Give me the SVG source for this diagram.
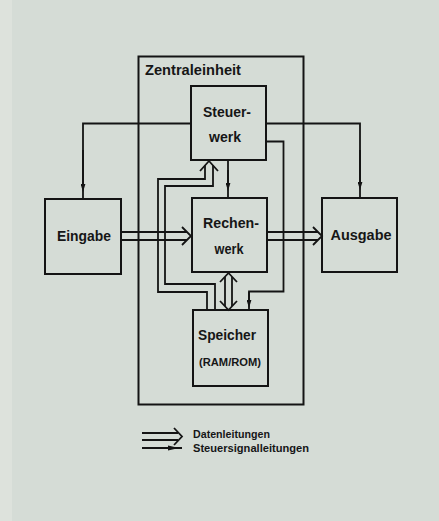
<svg xmlns="http://www.w3.org/2000/svg" width="439" height="521" viewBox="0 0 439 521">
  <defs>
    <style>
      .box { fill: none; stroke: #141414; stroke-width: 2; }
      .ln { fill: none; stroke: #141414; stroke-width: 1.8; stroke-linejoin: miter; }
      .lbl { font-family: "Liberation Sans", Arial, sans-serif; font-weight: bold; fill: #161616; }
      .big { font-size: 14px; }
      .small { font-size: 11px; }
    </style>
    <!-- small filled head used on control-signal lines -->
    <marker id="sig" viewBox="0 0 10 6" refX="5" refY="3" markerWidth="8" markerHeight="5" markerUnits="userSpaceOnUse" orient="auto">
      <path d="M0,0 L10,3 L0,6 Z" fill="#141414"/>
    </marker>
  </defs>

  <!-- paper -->
  <rect x="0" y="0" width="439" height="521" fill="#d5dcd6"/>
  <rect x="0" y="0" width="12" height="521" fill="#dde2dc"/>

  <!-- central unit frame -->
  <g id="zentraleinheit">
    <rect class="box" x="138.5" y="56.5" width="165" height="348"/>
    <text class="lbl big" x="145" y="75" textLength="96" lengthAdjust="spacingAndGlyphs">Zentraleinheit</text>
  </g>

  <g id="connectors">
    <!-- control signal lines -->
    <path class="ln" d="M191,123.5 H83 V199"/>
    <path class="ln" d="M83,150 V188" marker-end="url(#sig)"/>
    <path class="ln" d="M266,123.5 H360 V198"/>
    <path class="ln" d="M360,150 V186" marker-end="url(#sig)"/>
    <path class="ln" d="M228,160 V198"/>
    <path class="ln" d="M228,170 V187" marker-end="url(#sig)"/>
    <path class="ln" d="M266,141.5 H283.5 V291.5 H249 V310"/>
    <path class="ln" d="M249,292 V304" marker-end="url(#sig)"/>

    <!-- data lines: Eingabe -> Rechenwerk -->
    <path class="ln" d="M121,232 H187 M121,240 H187"/>
    <path class="ln" d="M182,227 L191,236 L182,245"/>

    <!-- data lines: Rechenwerk -> Ausgabe -->
    <path class="ln" d="M267,232 H318 M267,240 H318"/>
    <path class="ln" d="M313,227 L322,236 L313,245"/>

    <!-- data lines: Rechenwerk <-> Speicher -->
    <path class="ln" d="M225,277 V306 M232,277 V306"/>
    <path class="ln" d="M220,282 L228.5,273 L237,282"/>
    <path class="ln" d="M220,301 L228.5,310 L237,301"/>

    <!-- data lines: Speicher -> Steuerwerk -->
    <path class="ln" d="M207,310 V292 H158 V179 H205 V165"/>
    <path class="ln" d="M215,310 V284 H165 V186 H213 V165"/>
    <path class="ln" d="M200,171 L209,161 L218,171"/>
  </g>

  <g id="steuerwerk">
    <rect class="box" x="191" y="86" width="75" height="74" fill="#d5dcd6"/>
    <text class="lbl big" x="227" y="117" text-anchor="middle" textLength="48" lengthAdjust="spacingAndGlyphs">Steuer-</text>
    <text class="lbl big" x="225" y="142" text-anchor="middle" textLength="32" lengthAdjust="spacingAndGlyphs">werk</text>
  </g>

  <g id="rechenwerk">
    <rect class="box" x="192" y="198" width="75" height="74" fill="#d5dcd6"/>
    <text class="lbl big" x="231" y="228" text-anchor="middle" textLength="56" lengthAdjust="spacingAndGlyphs">Rechen-</text>
    <text class="lbl big" x="229" y="254" text-anchor="middle" textLength="29" lengthAdjust="spacingAndGlyphs">werk</text>
  </g>

  <g id="speicher">
    <rect class="box" x="193" y="310" width="75" height="76" fill="#d5dcd6"/>
    <text class="lbl big" x="227" y="340" text-anchor="middle" textLength="58" lengthAdjust="spacingAndGlyphs">Speicher</text>
    <text class="lbl small" x="230" y="366" text-anchor="middle" textLength="62" lengthAdjust="spacingAndGlyphs">(RAM/ROM)</text>
  </g>

  <g id="eingabe">
    <rect class="box" x="45" y="199" width="76" height="75" fill="#d5dcd6"/>
    <text class="lbl big" x="84" y="241" text-anchor="middle" textLength="54" lengthAdjust="spacingAndGlyphs">Eingabe</text>
  </g>

  <g id="ausgabe">
    <rect class="box" x="322" y="198" width="75" height="74" fill="#d5dcd6"/>
    <text class="lbl big" x="361" y="240" text-anchor="middle" textLength="61" lengthAdjust="spacingAndGlyphs">Ausgabe</text>
  </g>

  <!-- legend -->
  <g id="legend">
    <path class="ln" d="M142,433 H178 M142,440 H178"/>
    <path class="ln" d="M174,428 L182,436.5 L174,445"/>
    <path class="ln" d="M142,448 H182"/>
    <path d="M168,445.5 L179,448 L168,450.5 Z" fill="#141414"/>
    <text class="lbl small" x="193" y="438" textLength="77" lengthAdjust="spacingAndGlyphs">Datenleitungen</text>
    <text class="lbl small" x="193" y="452" textLength="116" lengthAdjust="spacingAndGlyphs">Steuersignalleitungen</text>
  </g>
</svg>
